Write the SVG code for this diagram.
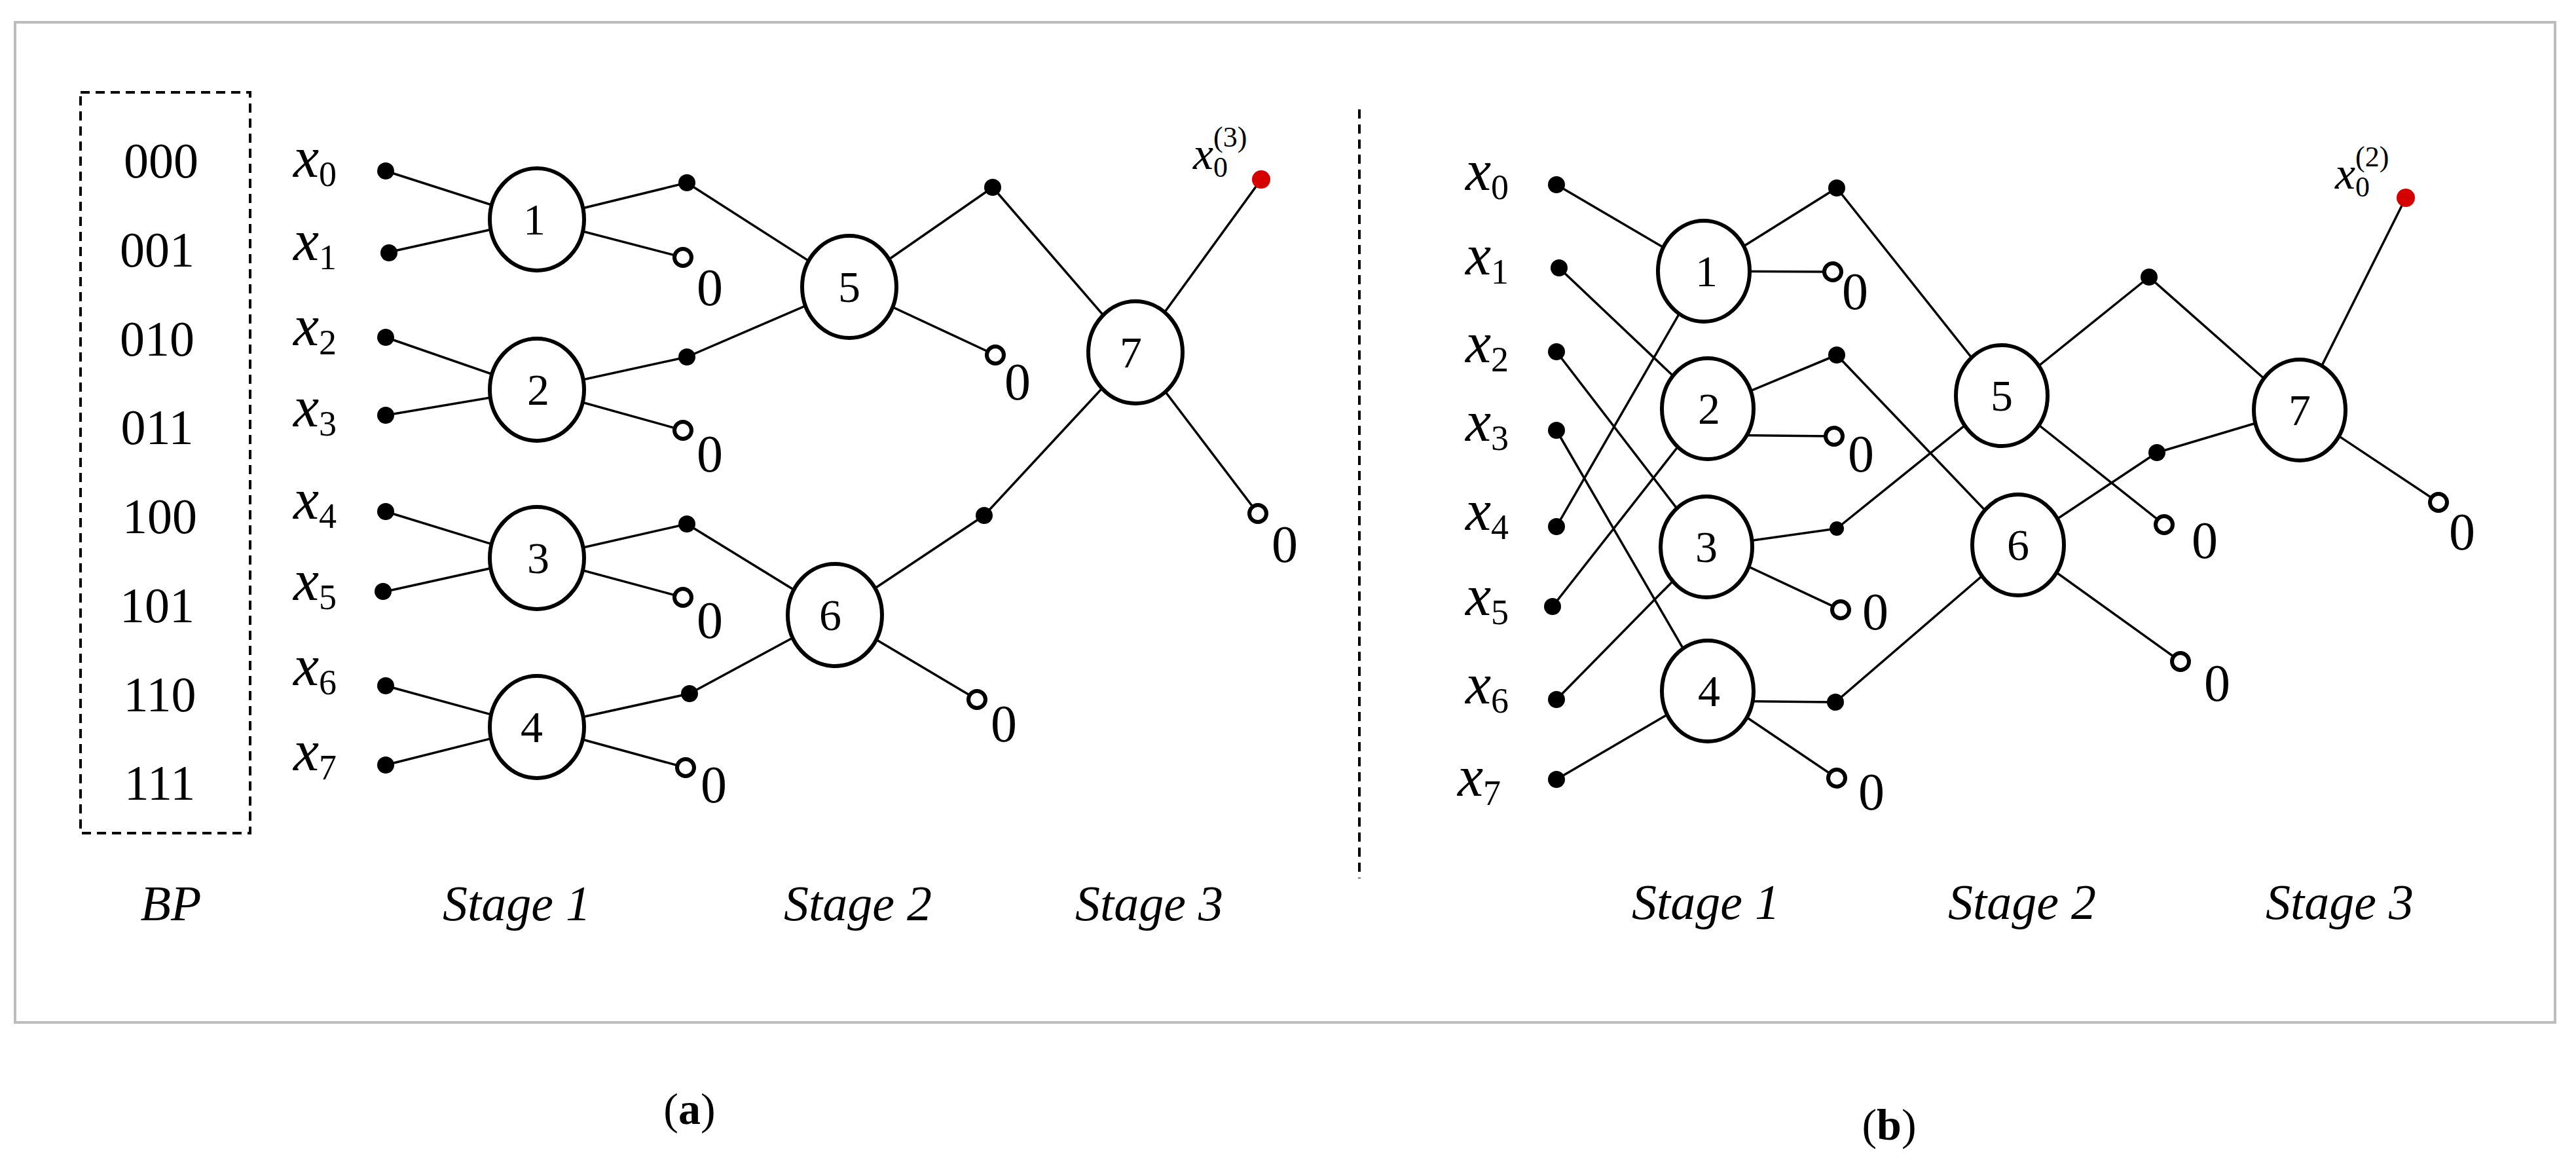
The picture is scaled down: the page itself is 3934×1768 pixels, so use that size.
<svg xmlns="http://www.w3.org/2000/svg" width="3934" height="1768" viewBox="0 0 3934 1768">
<style>
.t{font-family:"Liberation Serif",serif;fill:#000}
.n{font-size:68px;text-anchor:middle}
.z{font-size:80px;text-anchor:middle}
.i{font-style:italic}
.e line{stroke:#000;stroke-width:3.5}
.node ellipse{fill:#fff;stroke:#000;stroke-width:6}
.d{fill:#000}
.o{fill:#fff;stroke:#000;stroke-width:6}
</style>
<rect x="0" y="0" width="3934" height="1768" fill="#fff"/>
<rect x="23" y="34" width="3879" height="1527" fill="none" stroke="#bdbdbd" stroke-width="4"/>
<rect x="123" y="141" width="259" height="1131" fill="none" stroke="#000" stroke-width="4" stroke-dasharray="14,9"/>
<line x1="2076" y1="167" x2="2076" y2="1341" stroke="#000" stroke-width="4" stroke-dasharray="14,9"/>
<g class="t" font-size="76" text-anchor="middle">
<text x="246" y="271">000</text><text x="240" y="407">001</text><text x="240" y="543">010</text><text x="240" y="678">011</text>
<text x="244" y="814">100</text><text x="240" y="950">101</text><text x="244" y="1086">110</text><text x="244" y="1221">111</text>
</g>
<g class="t i" font-size="88">
<text x="448" y="270">x<tspan font-size="54" font-style="normal" dy="14">0</tspan></text>
<text x="448" y="397">x<tspan font-size="54" font-style="normal" dy="14">1</tspan></text>
<text x="448" y="527">x<tspan font-size="54" font-style="normal" dy="14">2</tspan></text>
<text x="448" y="651">x<tspan font-size="54" font-style="normal" dy="14">3</tspan></text>
<text x="448" y="792">x<tspan font-size="54" font-style="normal" dy="14">4</tspan></text>
<text x="448" y="916">x<tspan font-size="54" font-style="normal" dy="14">5</tspan></text>
<text x="448" y="1046">x<tspan font-size="54" font-style="normal" dy="14">6</tspan></text>
<text x="448" y="1176">x<tspan font-size="54" font-style="normal" dy="14">7</tspan></text>
<text x="2238" y="290">x<tspan font-size="54" font-style="normal" dy="14">0</tspan></text>
<text x="2238" y="419">x<tspan font-size="54" font-style="normal" dy="14">1</tspan></text>
<text x="2238" y="553">x<tspan font-size="54" font-style="normal" dy="14">2</tspan></text>
<text x="2238" y="673">x<tspan font-size="54" font-style="normal" dy="14">3</tspan></text>
<text x="2238" y="809">x<tspan font-size="54" font-style="normal" dy="14">4</tspan></text>
<text x="2238" y="939">x<tspan font-size="54" font-style="normal" dy="14">5</tspan></text>
<text x="2238" y="1074">x<tspan font-size="54" font-style="normal" dy="14">6</tspan></text>
<text x="2226" y="1215">x<tspan font-size="54" font-style="normal" dy="14">7</tspan></text>
<text x="1822" y="258" font-size="70">x<tspan font-size="44" font-style="normal" dy="12">0</tspan><tspan font-size="44" font-style="normal" dx="-22" dy="-46">(3)</tspan></text>
<text x="3566" y="288" font-size="70">x<tspan font-size="44" font-style="normal" dy="12">0</tspan><tspan font-size="44" font-style="normal" dx="-22" dy="-46">(2)</tspan></text>
</g>
<g id="connectors" class="e">
<line x1="589" y1="261" x2="820" y2="335"/><line x1="589" y1="386" x2="820" y2="335"/>
<line x1="589" y1="515" x2="820" y2="595"/><line x1="589" y1="634" x2="820" y2="595"/>
<line x1="589" y1="781" x2="820" y2="852"/><line x1="589" y1="903" x2="820" y2="852"/>
<line x1="589" y1="1047" x2="820" y2="1110"/><line x1="589" y1="1168" x2="820" y2="1110"/>
<line x1="820" y1="335" x2="1049" y2="279"/><line x1="820" y1="335" x2="1043" y2="393"/>
<line x1="820" y1="595" x2="1049" y2="545"/><line x1="820" y1="595" x2="1043" y2="657"/>
<line x1="820" y1="852" x2="1049" y2="800"/><line x1="820" y1="852" x2="1043" y2="912"/>
<line x1="820" y1="1110" x2="1053" y2="1059"/><line x1="820" y1="1110" x2="1047" y2="1172"/>
<line x1="1049" y1="279" x2="1297" y2="438"/><line x1="1049" y1="545" x2="1297" y2="438"/>
<line x1="1049" y1="800" x2="1275" y2="939"/><line x1="1053" y1="1059" x2="1275" y2="939"/>
<line x1="1297" y1="438" x2="1516" y2="286"/><line x1="1297" y1="438" x2="1520" y2="542"/>
<line x1="1275" y1="939" x2="1503" y2="787"/><line x1="1275" y1="939" x2="1492" y2="1068"/>
<line x1="1516" y1="286" x2="1734" y2="538"/><line x1="1503" y1="787" x2="1734" y2="538"/>
<line x1="1734" y1="538" x2="1926" y2="274"/><line x1="1734" y1="538" x2="1921" y2="784"/>

<line x1="2377" y1="282" x2="2602" y2="414"/><line x1="2381" y1="409" x2="2608" y2="624"/>
<line x1="2377" y1="537" x2="2606" y2="835"/><line x1="2377" y1="657" x2="2608" y2="1055"/>
<line x1="2377" y1="804" x2="2602" y2="414"/><line x1="2371" y1="926" x2="2608" y2="624"/>
<line x1="2377" y1="1068" x2="2606" y2="835"/><line x1="2377" y1="1190" x2="2608" y2="1055"/>
<line x1="2602" y1="414" x2="2805" y2="287"/><line x1="2602" y1="414" x2="2799" y2="415"/>
<line x1="2608" y1="624" x2="2805" y2="542"/><line x1="2608" y1="664" x2="2801" y2="666"/>
<line x1="2606" y1="835" x2="2805" y2="807"/><line x1="2606" y1="835" x2="2811" y2="931"/>
<line x1="2608" y1="1070" x2="2803" y2="1072"/><line x1="2608" y1="1055" x2="2805" y2="1188"/>
<line x1="2805" y1="287" x2="3057" y2="604"/><line x1="2805" y1="807" x2="3057" y2="604"/>
<line x1="2805" y1="542" x2="3082" y2="832"/><line x1="2803" y1="1072" x2="3082" y2="832"/>
<line x1="3057" y1="604" x2="3282" y2="423"/><line x1="3057" y1="604" x2="3305" y2="801"/>
<line x1="3082" y1="832" x2="3294" y2="691"/><line x1="3082" y1="832" x2="3330" y2="1010"/>
<line x1="3282" y1="423" x2="3512" y2="626"/><line x1="3294" y1="691" x2="3512" y2="626"/>
<line x1="3512" y1="626" x2="3674" y2="302"/><line x1="3512" y1="626" x2="3724" y2="767"/>
</g>
<g class="d">
<circle cx="589" cy="261" r="13"/><circle cx="594" cy="386" r="13"/><circle cx="589" cy="515" r="13"/><circle cx="589" cy="634" r="13"/>
<circle cx="589" cy="781" r="13"/><circle cx="585" cy="903" r="13"/><circle cx="589" cy="1047" r="13"/><circle cx="589" cy="1168" r="13"/>
<circle cx="1049" cy="279" r="13"/><circle cx="1049" cy="545" r="13"/><circle cx="1049" cy="800" r="13"/><circle cx="1053" cy="1059" r="13"/>
<circle cx="1516" cy="286" r="13"/><circle cx="1503" cy="787" r="13"/>
<circle cx="2377" cy="282" r="13"/><circle cx="2381" cy="409" r="13"/><circle cx="2377" cy="537" r="13"/><circle cx="2377" cy="657" r="13"/>
<circle cx="2377" cy="804" r="13"/><circle cx="2371" cy="926" r="13"/><circle cx="2377" cy="1068" r="13"/><circle cx="2377" cy="1190" r="13"/>
<circle cx="2805" cy="287" r="13"/><circle cx="2805" cy="542" r="13"/><circle cx="2805" cy="807" r="11"/><circle cx="2803" cy="1072" r="13"/>
<circle cx="3282" cy="423" r="13"/><circle cx="3294" cy="691" r="13"/>
<circle cx="1926" cy="274" r="14" fill="#d40000"/><circle cx="3674" cy="302" r="14" fill="#d40000"/>
</g>
<g class="o">
<circle cx="1043" cy="393" r="13"/><circle cx="1043" cy="657" r="13"/><circle cx="1043" cy="912" r="13"/><circle cx="1047" cy="1172" r="13"/>
<circle cx="1520" cy="542" r="13"/><circle cx="1492" cy="1068" r="13"/><circle cx="1921" cy="784" r="13"/>
<circle cx="2799" cy="415" r="13"/><circle cx="2801" cy="666" r="13"/><circle cx="2811" cy="931" r="13"/><circle cx="2805" cy="1188" r="13"/>
<circle cx="3305" cy="801" r="13"/><circle cx="3330" cy="1010" r="13"/><circle cx="3724" cy="767" r="13"/>
</g>
<g class="t z">
<text x="1084" y="466">0</text><text x="1084" y="720">0</text><text x="1084" y="974">0</text><text x="1090" y="1225">0</text>
<text x="1554" y="610">0</text><text x="1533" y="1132">0</text><text x="1962" y="858">0</text>
<text x="2833" y="472">0</text><text x="2842" y="720">0</text><text x="2864" y="961">0</text><text x="2858" y="1236">0</text>
<text x="3367" y="852">0</text><text x="3386" y="1070">0</text><text x="3760" y="839">0</text>
</g>
<g id="a1" class="node"><ellipse cx="820" cy="335" rx="72" ry="78"/><text class="t n" x="816" y="358">1</text></g>
<g id="a2" class="node"><ellipse cx="820" cy="595" rx="72" ry="78"/><text class="t n" x="822" y="618">2</text></g>
<g id="a3" class="node"><ellipse cx="820" cy="852" rx="72" ry="78"/><text class="t n" x="822" y="875">3</text></g>
<g id="a4" class="node"><ellipse cx="820" cy="1110" rx="72" ry="78"/><text class="t n" x="812" y="1133">4</text></g>
<g id="a5" class="node"><ellipse cx="1297" cy="438" rx="72" ry="78"/><text class="t n" x="1297" y="461">5</text></g>
<g id="a6" class="node"><ellipse cx="1275" cy="939" rx="72" ry="78"/><text class="t n" x="1268" y="962">6</text></g>
<g id="a7" class="node"><ellipse cx="1734" cy="538" rx="72" ry="78"/><text class="t n" x="1727" y="561">7</text></g>
<g id="b1" class="node"><ellipse cx="2602" cy="414" rx="70" ry="77"/><text class="t n" x="2606" y="437">1</text></g>
<g id="b2" class="node"><ellipse cx="2608" cy="624" rx="70" ry="77"/><text class="t n" x="2610" y="647">2</text></g>
<g id="b3" class="node"><ellipse cx="2606" cy="835" rx="70" ry="77"/><text class="t n" x="2606" y="858">3</text></g>
<g id="b4" class="node"><ellipse cx="2608" cy="1055" rx="70" ry="77"/><text class="t n" x="2610" y="1078">4</text></g>
<g id="b5" class="node"><ellipse cx="3057" cy="604" rx="70" ry="77"/><text class="t n" x="3057" y="627">5</text></g>
<g id="b6" class="node"><ellipse cx="3082" cy="832" rx="70" ry="77"/><text class="t n" x="3082" y="855">6</text></g>
<g id="b7" class="node"><ellipse cx="3512" cy="626" rx="70" ry="77"/><text class="t n" x="3512" y="649">7</text></g>
<g class="t i" font-size="76" text-anchor="middle">
<text x="261" y="1405">BP</text><text x="789" y="1405">Stage 1</text><text x="1310" y="1405">Stage 2</text><text x="1755" y="1405">Stage 3</text>
<text x="2605" y="1403">Stage 1</text><text x="3088" y="1403">Stage 2</text><text x="3573" y="1403">Stage 3</text>
</g>
<g class="t" font-size="68" text-anchor="middle">
<text x="1053" y="1716">(<tspan font-weight="bold">a</tspan>)</text>
<text x="2885" y="1740">(<tspan font-weight="bold">b</tspan>)</text>
</g>
</svg>
